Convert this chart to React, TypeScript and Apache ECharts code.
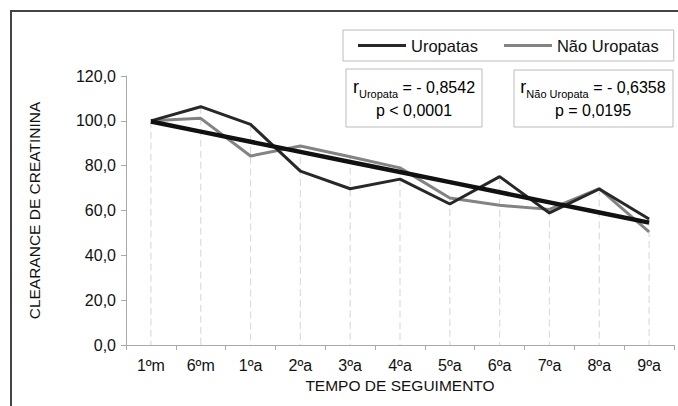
import React, { useEffect, useRef } from "react";
import * as echarts from "echarts";

const categories = ["1ºm", "6ºm", "1ºa", "2ºa", "3ºa", "4ºa", "5ºa", "6ºa", "7ºa", "8ºa", "9ºa"];
const uropatas = [100.0, 106.3, 98.4, 77.6, 69.7, 74.0, 62.9, 75.1, 58.9, 69.6, 56.2];
const naoUropatas = [100.0, 101.1, 84.3, 88.8, 84.0, 79.0, 65.6, 62.3, 60.5, 69.8, 50.5];
const yTicks = { min: 0, max: 120, interval: 20 };
const statsUro = { r: "- 0,8542", p: "p < 0,0001" };
const statsNao = { r: "- 0,6358", p: "p = 0,0195" };

const FONT = "'Liberation Sans', Arial, sans-serif";

function regression(values: number[]): number[] {
  const n = values.length;
  const mx = (n - 1) / 2;
  const my = values.reduce((a, b) => a + b, 0) / n;
  let sxy = 0;
  let sxx = 0;
  values.forEach((v, i) => {
    sxy += (i - mx) * (v - my);
    sxx += (i - mx) * (i - mx);
  });
  const slope = sxy / sxx;
  return values.map((_, i) => +(my + slope * (i - mx)).toFixed(2));
}

export default function App() {
  const ref = useRef<HTMLDivElement>(null);
  useEffect(() => {
    document.body.style.margin = "0";
    const chart = echarts.init(ref.current!, null, { renderer: "svg" });
    const trend = regression(uropatas);
    const drops = categories.map((_, i) => [i, Math.max(uropatas[i], naoUropatas[i])]);
    const rich = {
      r: { fontSize: 18, fontFamily: FONT, color: "#111", lineHeight: 22, verticalAlign: "middle" },
      sub: { fontSize: 11, fontFamily: FONT, color: "#111", lineHeight: 24, verticalAlign: "bottom" },
      t: { fontSize: 16, fontFamily: FONT, color: "#111", lineHeight: 22 },
    };
    chart.setOption({
      animation: false,
      backgroundColor: "#fff",
      grid: { left: 126, right: 4, top: 76, bottom: 61, containLabel: false },
      legend: {
        data: ["Uropatas", "Não Uropatas"],
        left: 343,
        top: 30,
        padding: [7, 15, 7, 15],
        borderColor: "#bbbbbb",
        borderWidth: 1,
        icon: "rect",
        itemWidth: 48,
        itemHeight: 3,
        itemGap: 26,
        textStyle: { fontSize: 16.5, fontFamily: FONT, color: "#111" },
      },
      xAxis: {
        type: "category",
        data: categories,
        boundaryGap: true,
        axisLine: { lineStyle: { color: "#aaaaaa", width: 1 } },
        axisTick: { show: true, length: 5, lineStyle: { color: "#aaaaaa" } },
        axisLabel: { fontSize: 16, fontFamily: FONT, color: "#111", margin: 12 },
        name: "TEMPO DE SEGUIMENTO",
        nameLocation: "middle",
        nameGap: 31,
        nameTextStyle: { fontSize: 15.5, fontFamily: FONT, color: "#111" },
      },
      yAxis: {
        type: "value",
        min: yTicks.min,
        max: yTicks.max,
        interval: yTicks.interval,
        axisLine: { show: true, lineStyle: { color: "#aaaaaa", width: 1 } },
        axisTick: { show: true, length: 5, lineStyle: { color: "#aaaaaa" } },
        splitLine: { show: false },
        axisLabel: {
          fontSize: 16,
          fontFamily: FONT,
          color: "#111",
          margin: 10,
          formatter: (v: number) => v.toFixed(1).replace(".", ","),
        },
        name: "CLEARANCE DE CREATININA",
        nameLocation: "middle",
        nameGap: 84,
        nameTextStyle: { fontSize: 15.5, fontFamily: FONT, color: "#111" },
      },
      series: [
        {
          type: "custom",
          name: "drop",
          silent: true,
          data: drops,
          renderItem: (params: any, api: any) => {
            const p1 = api.coord([api.value(0), api.value(1)]);
            const p0 = api.coord([api.value(0), 0]);
            return {
              type: "line",
              shape: { x1: p1[0], y1: p1[1], x2: p0[0], y2: p0[1] },
              style: { stroke: "#dcdcdc", lineWidth: 1.2, lineDash: [7, 4] },
            };
          },
          z: 1,
        },
        {
          type: "line",
          name: "Não Uropatas",
          data: naoUropatas,
          symbol: "none",
          lineStyle: { color: "#838383", width: 3 },
          itemStyle: { color: "#838383" },
          z: 2,
        },
        {
          type: "line",
          name: "Uropatas",
          data: uropatas,
          symbol: "none",
          lineStyle: { color: "#282828", width: 3 },
          itemStyle: { color: "#282828" },
          z: 3,
        },
        {
          type: "line",
          name: "Tendência",
          data: trend,
          symbol: "none",
          lineStyle: { color: "#111111", width: 4.5 },
          itemStyle: { color: "#111111" },
          z: 4,
        },
      ],
      graphic: [
        {
          type: "rect",
          shape: { x: 11, y: 11, width: 720, height: 420 },
          style: { fill: "none", stroke: "#444", lineWidth: 2 },
          silent: true,
        },
        {
          type: "rect",
          shape: { x: 346, y: 69, width: 136, height: 58 },
          style: { fill: "#fff", stroke: "#bbbbbb", lineWidth: 1 },
          z: 10,
        },
        {
          type: "text",
          x: 414,
          y: 98,
          z: 11,
          style: {
            text: `{r|r}{sub|Uropata}{t| = ${statsUro.r}}\n{t|${statsUro.p}}`,
            rich,
            align: "center",
            verticalAlign: "middle",
            fontFamily: FONT,
          },
        },
        {
          type: "rect",
          shape: { x: 514, y: 70, width: 159, height: 57 },
          style: { fill: "#fff", stroke: "#bbbbbb", lineWidth: 1 },
          z: 10,
        },
        {
          type: "text",
          x: 593,
          y: 98,
          z: 11,
          style: {
            text: `{r|r}{sub|Não Uropata}{t| = ${statsNao.r}}\n{t|${statsNao.p}}`,
            rich,
            align: "center",
            verticalAlign: "middle",
            fontFamily: FONT,
          },
        },
      ],
    });
    return () => chart.dispose();
  }, []);
  return <div ref={ref} style={{ width: 678, height: 406 }} />;
}
